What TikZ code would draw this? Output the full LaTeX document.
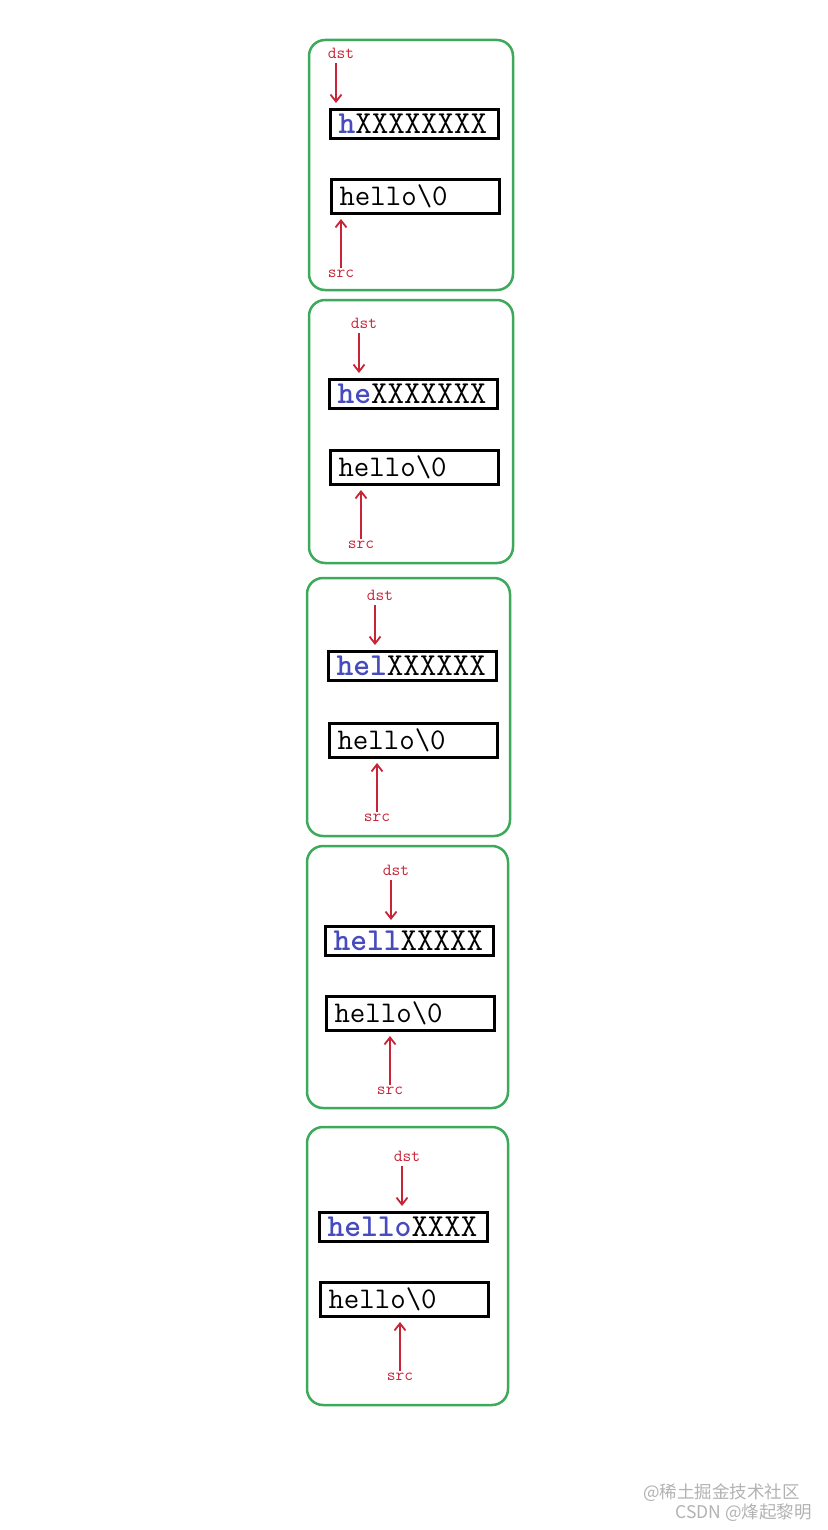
\documentclass[tikz,border=0pt]{standalone}
\usepackage{fontspec}
\usepackage{tikz}
\usetikzlibrary{arrows.meta}
\newfontfamily\cjk{Noto Sans CJK SC}
\definecolor{framegreen}{RGB}{60,170,90}
\definecolor{ptrred}{RGB}{200,35,55}
\definecolor{copyblue}{RGB}{70,75,190}
\tikzset{
  panel/.style={draw=framegreen, line width=2.5pt, rounded corners=16pt},
  buf/.style={draw=black, line width=3pt, anchor=north west, text width=152pt, align=left,
    inner xsep=8pt, inner ysep=0pt, font=\fontsize{30}{30}\selectfont\ttfamily},
  ptrlabel/.style={text=ptrred, font=\fontsize{17}{17}\selectfont\ttfamily, inner sep=0pt},
  ptr/.style={draw=ptrred, line width=1.8pt, -{Straight Barb[length=7pt,width=11pt]}},
  watermark/.style={font=\cjk\fontsize{17.5}{17.5}\selectfont, text=gray!60, anchor=east, inner sep=0pt}
}
\begin{document}
\begin{tikzpicture}[x=1pt, y=-1pt]
    \useasboundingbox (0,0) rectangle (827,1530);

    % One panel per copy step
    \foreach \n/\pl/\pt/\pr/\pb/\bl/\ta/\ba/\dx/\sx/\done/\rest in {
      1/309/40/513/290/329/108/178/336/341/h/XXXXXXXX,
      2/309/300/513/563/328/378/449/359/361/he/XXXXXXX,
      3/307/578/510/836/327/650/722/375/377/hel/XXXXXX,
      4/307/846/508/1108/324/925/995/391/390/hell/XXXXX,
      5/307/1127/508/1405/318/1211/1281/402/400/hello/XXXX} {
      % Frame and the two buffers
      \draw[panel] (\pl,\pt) rectangle (\pr,\pb);
      \node[buf, minimum height=29pt, font=\fontsize{32}{32}\selectfont\ttfamily] (top\n) at (\bl,\ta) {{\bfseries\color{copyblue}\done}\rest};
      \node[buf, minimum height=34pt] (bot\n) at (\bl+1,\ba) {hello\textbackslash0};

      % Pointers
      \node[ptrlabel] (dst\n) at (\dx+5,\ta-55) {dst};
      \node[ptrlabel] (src\n) at (\sx,\ba+96) {src};
      \coordinate (dtip\n) at (\dx,\ta-5);
      \coordinate (stip\n) at (\sx,\ba+41);
      \draw[ptr, shorten <=5pt] (dst\n.south -| dtip\n) -- (dtip\n);
      \draw[ptr, shorten <=2pt] (src\n.north -| stip\n) -- (stip\n);
    }

    % Watermark
    \node[watermark] (mark1) at (800,1493) {@稀土掘金技术社区};
    \node[watermark] (mark2) at (812,1513) {CSDN @烽起黎明};
\end{tikzpicture}
\end{document}
